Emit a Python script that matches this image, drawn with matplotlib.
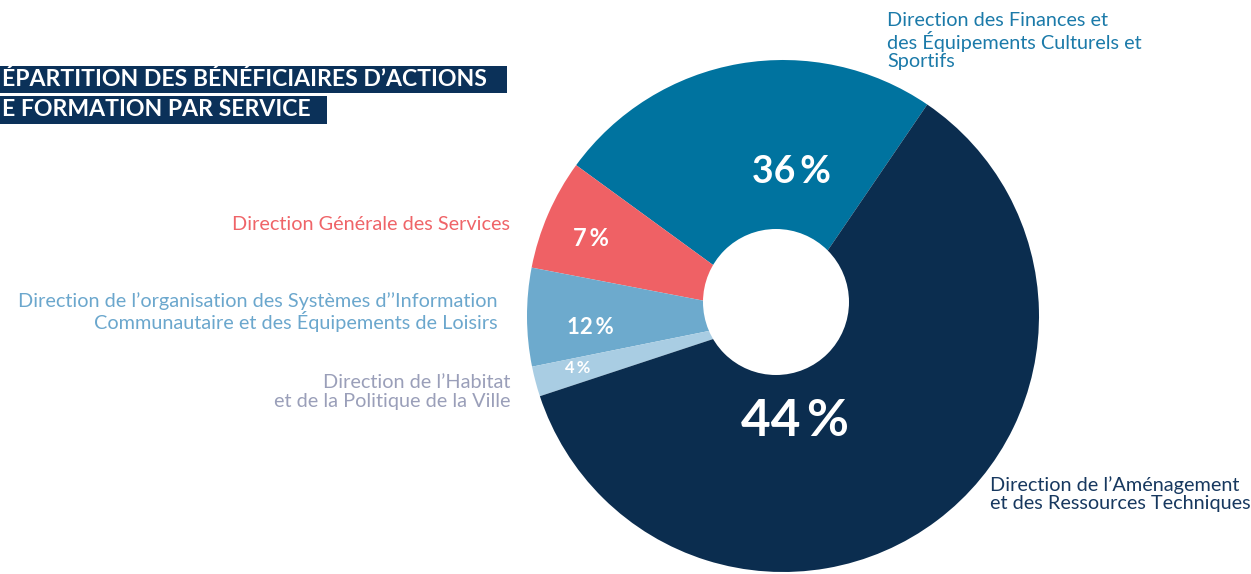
import matplotlib
matplotlib.use("Agg")
import matplotlib.pyplot as plt
from matplotlib.patches import Circle, Rectangle

# ---- data ----
services = [
    "Direction des Finances et\ndes Équipements Culturels et\nSportifs",
    "Direction Générale des Services",
    "Direction de l’organisation des Systèmes d’’Information\nCommunautaire et des Équipements de Loisirs",
    "Direction de l’Habitat\net de la Politique de la Ville",
    "Direction de l’Aménagement\net des Ressources Techniques",
]
printed_pct = [36, 7, 12, 4, 44]                 # percentages printed on the chart
drawn_share = [24.5, 7.0, 6.2, 1.9, 60.4]        # arc shares as drawn in the reference
slice_colors = ["#00739F", "#EF6165", "#6DAACD", "#A9CDE3", "#0B2D4F"]
label_colors = ["#1B7AA9", "#EF6468", "#6BA7CD", "#9A9FB9", "#17385F"]
title_lines = ["ÉPARTITION DES BÉNÉFICIAIRES D’ACTIONS", "E FORMATION PAR SERVICE"]

# ---- layout (pixel coordinates, y measured from top) ----
W, H = 1251, 574
def Y(y):
    return H - y

fig = plt.figure(figsize=(W / 100, H / 100), dpi=100)
ax = fig.add_axes([0, 0, 1, 1])

pie_c = (783, Y(316))
pie_r = 256
ax.pie(drawn_share, colors=slice_colors, startangle=55.7, counterclock=True,
       center=pie_c, radius=pie_r, frame=False,
       wedgeprops=dict(linewidth=0, antialiased=True))
ax.add_patch(Circle((776, Y(302)), 73, facecolor="white", edgecolor="none", zorder=3))

ax.set_xlim(0, W)
ax.set_ylim(0, H)
ax.set_aspect("auto")
ax.set_axis_off()

FONT = ["Lato", "DejaVu Sans"]

# percentage labels inside slices
pct_pos = [(792, 172), (591, 238), (590, 328), (578, 368), (795, 421)]
pct_size = [27, 17, 16, 12, 37]
for p, (x, y), s in zip(printed_pct, pct_pos, pct_size):
    ax.text(x, Y(y), f"{p}\u2009%", color="white", fontsize=s, fontweight="bold",
            family=FONT, ha="center", va="center", zorder=5)

# service labels
lab_pos = [(887, 41, "left"), (510, 225, "right"), (498, 312, "right"),
           (510, 392, "right"), (990, 494, "left")]
for txt, (x, y, ha), c in zip(services, lab_pos, label_colors):
    ax.text(x, Y(y), txt, color=c, fontsize=14.3, family=FONT, ha=ha, va="center",
            linespacing=1.1, zorder=5)

# title bands
bands = [(66, 93, 507), (96, 124, 327)]
for line, (y0, y1, xr) in zip(title_lines, bands):
    ax.add_patch(Rectangle((0, Y(y1)), xr, y1 - y0, facecolor="#0B3159",
                           edgecolor="none", zorder=4))
    ax.text(2, Y((y0 + y1) / 2), line, color="white", fontsize=16.6, fontweight="bold",
            family=FONT, ha="left", va="center", zorder=5)

fig.savefig("out.png", dpi=100, facecolor="white")
